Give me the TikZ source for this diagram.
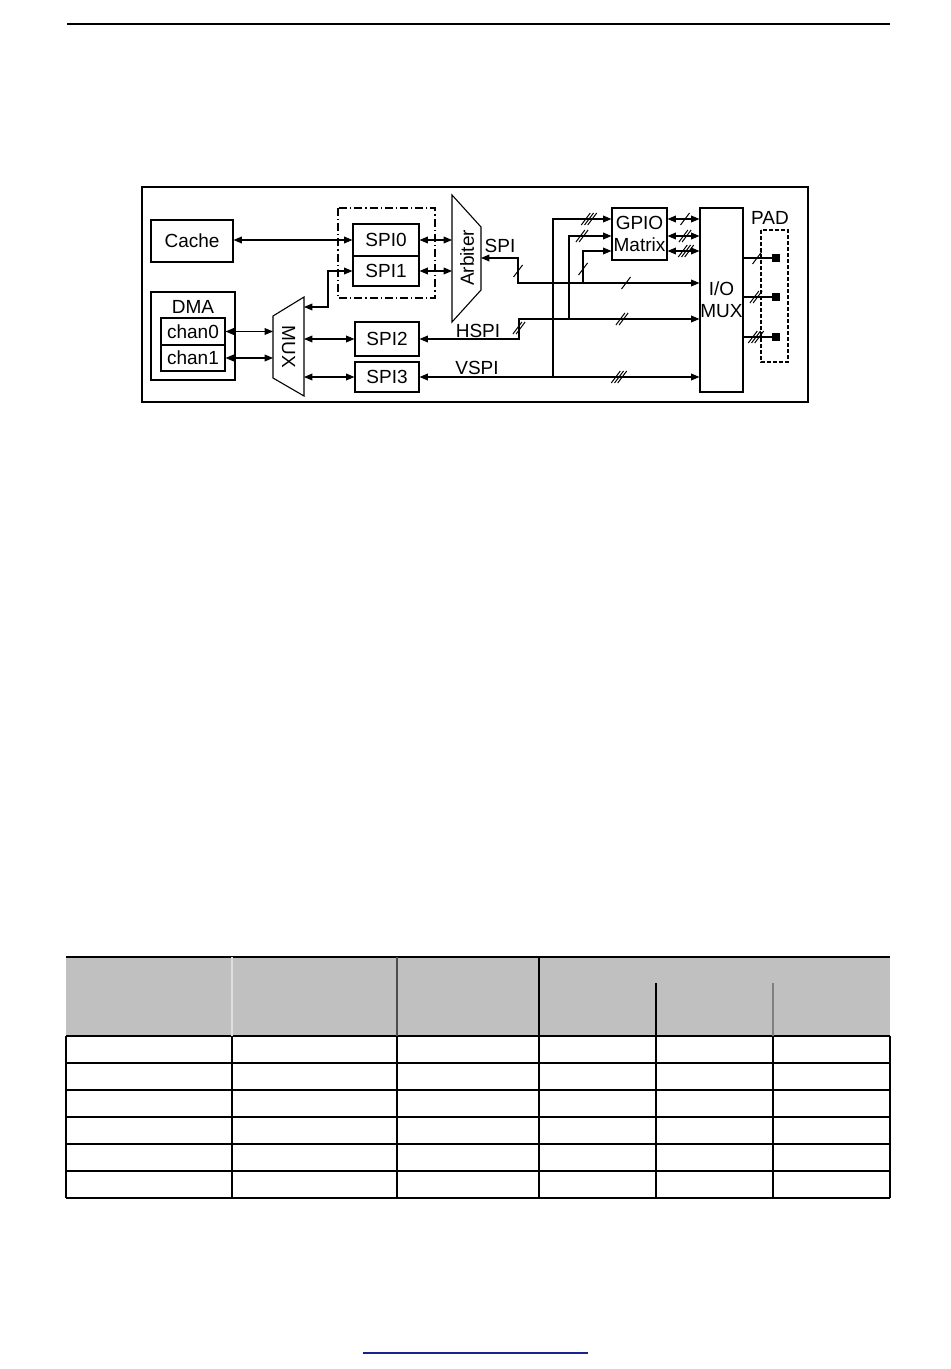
\documentclass[tikz,border=0pt]{standalone}
\usepackage{fontspec}
\setmainfont{Liberation Sans}
\usetikzlibrary{arrows.meta,calc}
\definecolor{navyline}{RGB}{25,35,140}
\definecolor{hdrgray}{RGB}{192,192,192}
\begin{document}
\begin{tikzpicture}[x=0.5pt,y=-0.5pt,line width=0.55pt,
  font=\fontsize{9.5}{10.8}\selectfont,
  >={Triangle[length=4.2pt,width=3.4pt]},
  blk/.style={draw,inner sep=0,align=center},
  lbl/.style={inner sep=0,align=center},
  padsq/.style={fill,minimum size=3.8pt,inner sep=0},
  tline/.style={line width=0.8pt},
  pics/bus/.style={code={
    \foreach \k in {1,...,#1}{
      \pgfmathsetmacro{\dx}{(\k-(#1+1)/2)*3.2}
      \draw[line width=0.5pt] ({\dx-4.5},6) -- ({\dx+4.5},-6);
    }}}]
\useasboundingbox (0,0) rectangle (950,1369);

% page rules
\draw[line width=0.75pt] (67,24) -- (890,24);
\draw[navyline,line width=0.75pt] (363,1353) -- (588,1353);

% diagram frame
\draw (142,187) rectangle (808,402);

% left blocks
\node[blk,minimum width=41pt,minimum height=21pt] (cache) at (192,241) {Cache};
\node[draw,minimum width=42pt,minimum height=44pt,inner sep=0] (dma) at (193,336) {};
\node[lbl] (dmal) at (193,307) {DMA};
\node[blk,minimum width=32pt,minimum height=13.5pt] (chan0) at (193,331.5) {chan0};
\node[blk,minimum width=32pt,minimum height=13pt] (chan1) at (193,358) {chan1};

% MUX
\draw (273,316) -- (304,297) -- (304,396) -- (273,378) -- cycle;
\node[lbl,rotate=-90] (mux) at (288.5,347) {MUX};
\coordinate (muxL) at (273,346);
\coordinate (muxR) at (304,346);
\coordinate (muxtop) at (304,307);

% SPI0/SPI1 group
\draw[dash pattern=on 4pt off 1.5pt on 0.6pt off 1.5pt] (338,208) rectangle (435,298);
\node[blk,minimum width=33pt,minimum height=16pt] (spi0) at (386,240) {SPI0};
\node[blk,minimum width=33pt,minimum height=15pt] (spi1) at (386,271) {SPI1};
\node[blk,minimum width=32pt,minimum height=17pt] (spi2) at (387,339) {SPI2};
\node[blk,minimum width=32pt,minimum height=15pt] (spi3) at (387,377) {SPI3};

% Arbiter
\draw (452,195) -- (481,227) -- (481,290) -- (452,322) -- cycle;
\node[lbl,rotate=90] (arb) at (467,258) {Arbiter};
\coordinate (arbL) at (452,258);
\coordinate (arbR) at (481,258);

% GPIO matrix, IO MUX, PAD
\node[blk,minimum width=27.5pt,minimum height=26pt] (gpio) at (639.5,234) {GPIO\\Matrix};
\node[blk,minimum width=21.5pt,minimum height=92pt] (iomux) at (721.5,300) {I/O\\MUX};
\node[lbl] (padl) at (770,218) {PAD};
\draw[dash pattern=on 2pt off 1pt] (761,230) rectangle (788,362);
\node[padsq] (p1) at (776,258) {};
\node[padsq] (p2) at (776,297) {};
\node[padsq] (p3) at (776,337) {};

% bus labels
\node[lbl] (spil) at (500,246) {SPI};
\node[lbl] (hspil) at (478,331) {HSPI};
\node[lbl] (vspil) at (477,368) {VSPI};

% bus coordinates
\coordinate (spibus) at (518,283);
\coordinate (hbus) at (519,319);
\coordinate (vj) at (553,377);
\coordinate (hj) at (569,319);
\coordinate (sj) at (583,283);
\coordinate (g1) at (553,219);
\coordinate (g2) at (569,236);
\coordinate (g3) at (583,251);

% connectors left
\draw[<->] (cache.east |- spi0.west) -- (spi0.west);
\draw[<->] (chan0.east) -- (chan0.east -| muxL);
\draw[<->] (chan1.east) -- (chan1.east -| muxL);
\draw[<->] (muxtop) -| (328,271) -- (spi1.west);
\draw[<->] (spi2.west -| muxR) -- (spi2.west);
\draw[<->] (spi3.west -| muxR) -- (spi3.west);
\draw[<->] (spi0.east) -- (spi0.east -| arbL);
\draw[<->] (spi1.east) -- (spi1.east -| arbL);

% SPI buses
\draw[<->] (arbR) -- (518,258) -- (spibus) -- (iomux.west |- spibus);
\draw[<->] (spi2.east) -- (519,339) -- (hbus) -- (iomux.west |- hbus);
\draw[<->] (spi3.east) -- (iomux.west |- spi3.east);

% to GPIO matrix
\draw[->] (vj) -- (g1) -- (g1 -| gpio.west);
\draw[->] (hj) -- (g2) -- (g2 -| gpio.west);
\draw[->] (sj) -- (g3) -- (g3 -| gpio.west);

% GPIO <-> IO MUX
\draw[<->] (gpio.east |- g1) -- (iomux.west |- g1);
\draw[<->] (gpio.east |- g2) -- (iomux.west |- g2);
\draw[<->] (gpio.east |- g3) -- (iomux.west |- g3);

% IO MUX -> pads
\draw (iomux.east |- p1) -- (p1);
\draw (iomux.east |- p2) -- (p2);
\draw (iomux.east |- p3) -- (p3);

% bus width marks
\pic at (518,271) {bus=1};
\pic at (626,283) {bus=1};
\pic at (519,328) {bus=2};
\pic at (622,319) {bus=2};
\pic at (619,377) {bus=3};
\pic at (589,219) {bus=3};
\pic at (582,236) {bus=2};
\pic at (583,269) {bus=1};
\pic at (685,219) {bus=1};
\pic at (685,236) {bus=2};
\pic at (686,251) {bus=3};
\pic at (757,258) {bus=1};
\pic at (756,297) {bus=2};
\pic at (756,337) {bus=3};

% table
\fill[hdrgray] (66,957) rectangle (890,1036);
\draw[tline] (66,957) -- (890,957);
\foreach \yy in {1036,1063,1090,1117,1144,1171,1198}{
  \draw[tline] (66,\yy) -- (890,\yy);
}
\foreach \xx in {66,232,397,539,656,773,890}{
  \draw[tline] (\xx,1036) -- (\xx,1198);
}
\draw[line width=0.6pt,white!75!gray] (232,957) -- (232,1036);
\draw[line width=0.6pt,gray!60!black] (397,957) -- (397,1036);
\draw[tline] (539,957) -- (539,1036);
\draw[tline] (656,983) -- (656,1036);
\draw[line width=0.6pt,gray] (773,983) -- (773,1036);
\end{tikzpicture}
\end{document}
